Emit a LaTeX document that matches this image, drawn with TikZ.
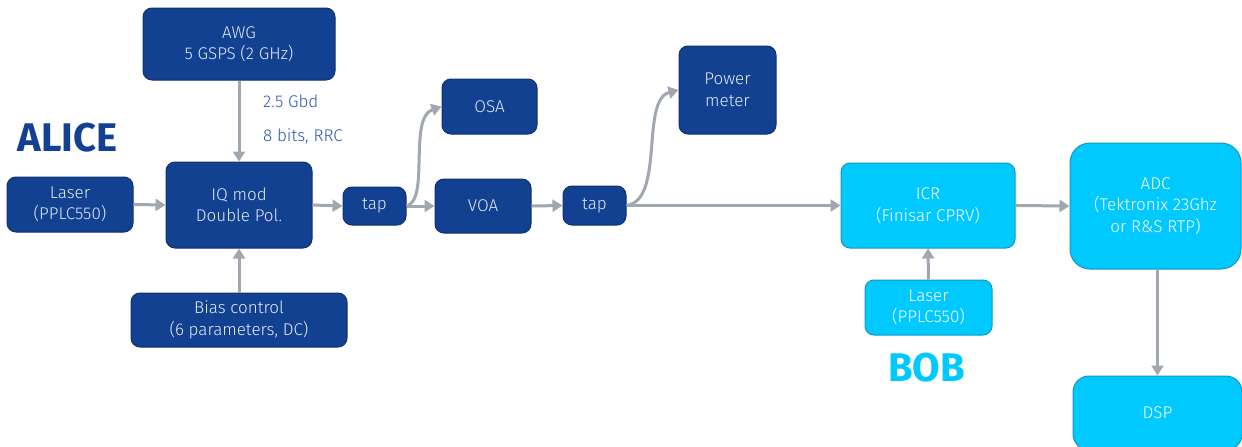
\documentclass[tikz,border=0pt]{standalone}
\usepackage{fontspec}
\setmainfont{Fira Sans}[UprightFont=* Light, BoldFont=* Bold]
\usetikzlibrary{arrows.meta}
\definecolor{dblue}{HTML}{124191}
\definecolor{dborder}{HTML}{0C3273}
\definecolor{lblue}{HTML}{00C9FF}
\definecolor{lborder}{HTML}{1497BE}
\definecolor{arr}{HTML}{A0A7B1}
\definecolor{txt}{HTML}{E4EAF5}
\definecolor{lbl}{HTML}{2C58AE}
\tikzset{
  abox/.style={draw=dborder, line width=1pt, fill=dblue, rounded corners=9pt, text=txt, align=center, font=\fontsize{17}{21.5}\selectfont, inner sep=0pt},
  bbox/.style={draw=lborder, line width=1pt, fill=lblue, rounded corners=9pt, text=white, align=center, font=\fontsize{17}{21.5}\selectfont, inner sep=0pt},
  conn/.style={draw=arr, line width=3pt, -{Triangle[length=10pt,width=12pt]}},
  lab/.style={text=lbl, font=\fontsize{17}{20}\selectfont, anchor=west, inner sep=0pt},
  big/.style={font=\fontsize{40}{44}\selectfont\bfseries}
}
\begin{document}
\begin{tikzpicture}[x=1pt,y=-1pt]
\useasboundingbox (0,0) rectangle (1242,447);
\node[abox, minimum width=192pt, minimum height=72pt] (awg) at (239,44) {AWG\\5 GSPS (2 GHz)};
\node[abox, minimum width=126pt, minimum height=55pt] (laserA) at (70,204.5) {Laser\\(PPLC550)};
\node[abox, minimum width=146pt, minimum height=86pt] (iq) at (239,205) {IQ mod\\Double Pol.};
\node[abox, minimum width=216pt, minimum height=54pt] (bias) at (239,320) {Bias control\\(6 parameters, DC)};
\node[abox, minimum width=63pt, minimum height=38pt] (tapA) at (374.5,206) {tap};
\node[abox, minimum width=95pt, minimum height=55pt] (osa) at (489.5,106.5) {OSA};
\node[abox, minimum width=96pt, minimum height=54pt] (voa) at (483,206) {VOA};
\node[abox, minimum width=63pt, minimum height=39pt] (tapB) at (594.5,205.5) {tap};
\node[abox, minimum width=97pt, minimum height=88pt] (pm) at (727.5,90) {Power\\meter};
\node[bbox, minimum width=174pt, minimum height=85pt] (icr) at (928,205.5) {ICR\\(Finisar CPRV)};
\node[bbox, minimum width=127pt, minimum height=55pt] (laserB) at (928.5,307.5) {Laser\\(PPLC550)};
\node[bbox, rounded corners=20pt, minimum width=171pt, minimum height=126pt] (adc) at (1155.5,206) {ADC\\(Tektronix 23Ghz\\or R\&S RTP)};
\node[bbox, rounded corners=16pt, minimum width=169pt, minimum height=74pt] (dsp) at (1157.5,413) {DSP};
\node[text=dblue, big] (alice) at (67.5,138) {ALICE};
\node[text=lblue, big] (bob) at (926.5,368) {BOB};
\node[lab] (l1) at (263,101) {2.5 Gbd};
\node[lab] (l2) at (263,136) {8 bits, RRC};
\draw[conn] (awg.south) -- (iq.north);
\draw[conn] (bias.north) -- (iq.south);
\draw[conn] (laserA.east) -- (iq.west);
\draw[conn] (iq.east) -- (tapA.west);
\draw[conn] (tapA.east) -- (voa.west);
\draw[conn] (tapA.east) .. controls (430,200) and (408,118) .. (osa.west);
\draw[conn] (voa.east) -- (tapB.west);
\draw[conn] (tapB.east) .. controls (665,200) and (640,100) .. (pm.west);
\draw[conn] (tapB.east) -- (icr.west);
\draw[conn] (icr.east) -- (adc.west);
\draw[conn] (laserB.north) -- (icr.south);
\draw[conn] (adc.south -| dsp.north) -- (dsp.north);
\end{tikzpicture}
\end{document}
